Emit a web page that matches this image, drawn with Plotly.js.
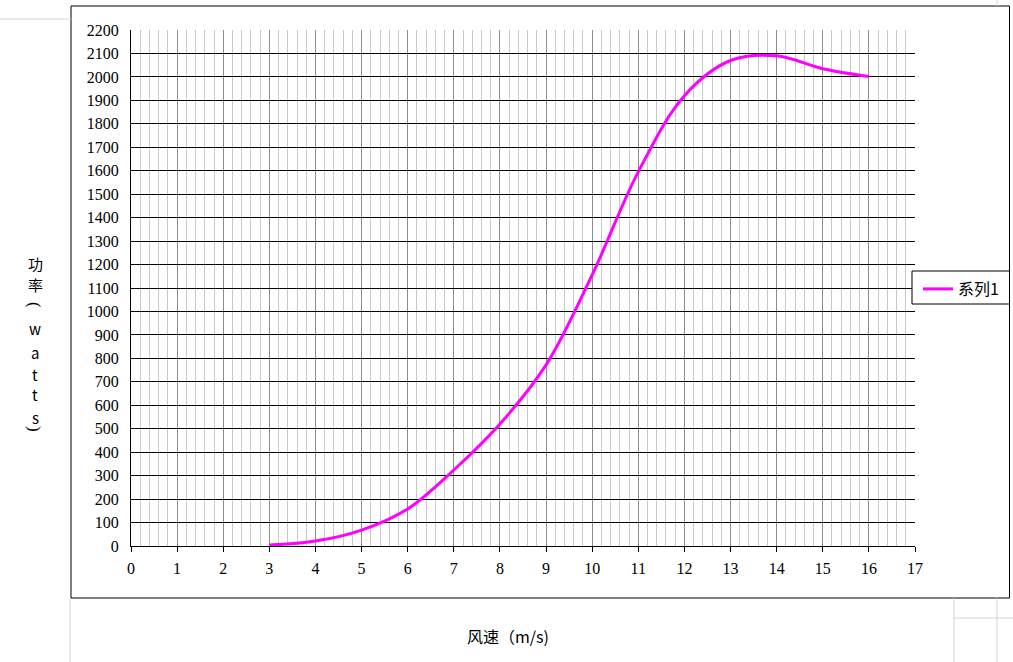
<!DOCTYPE html>
<html>
<head>
<meta charset="utf-8">
<script src="https://cdn.plot.ly/plotly-3.0.1.min.js"></script>
<style>
html,body{margin:0;padding:0;background:#fff;}
#chart{width:1013px;height:662px;}
</style>
</head>
<body>
<div id="chart"></div>
<script>
// ---- data ----
const windSpeed = [3, 4, 5, 6, 7, 8, 9, 10, 11, 12, 13, 14, 15, 16];
const power = [4, 21, 68, 158, 324, 520, 772, 1156, 1595, 1920, 2070, 2090, 2035, 2002];
const seriesName = '系列1';
const xTitle = '风速（m/s)';
const yTitleChars = ['功', '率', '(', 'w', 'a', 't', 't', 's', ')'];

// ---- geometry helpers (pixel -> paper) ----
const W = 1013, H = 662;
const L = 131, R = 915, T = 30, B = 546;
const px = x => (x - L) / (R - L);
const py = y => (B - y) / (B - T);

const numFont = {family: 'Liberation Serif, DejaVu Serif, serif', size: 16, color: '#000'};
const cjkFont = {family: 'Noto Sans CJK SC, sans-serif', size: 16, color: '#000'};

const trace = {
  x: windSpeed,
  y: power,
  type: 'scatter',
  mode: 'lines',
  name: seriesName,
  line: {color: '#FF00FF', width: 3, shape: 'spline', smoothing: 1},
  hoverinfo: 'skip'
};

const gray = '#d4d4d4';
const shapes = [
  // outer chart border
  {type: 'rect', xref: 'paper', yref: 'paper', x0: px(71), x1: px(1009.5), y0: py(598), y1: py(6),
   line: {color: '#000', width: 1}, fillcolor: 'rgba(0,0,0,0)', layer: 'below'},
  // legend box
  {type: 'rect', xref: 'paper', yref: 'paper', x0: px(912), x1: px(1009.5), y0: py(304), y1: py(271),
   line: {color: '#000', width: 1}, fillcolor: '#fff', layer: 'above'},
  // spreadsheet cell lines outside chart
  {type: 'line', xref: 'paper', yref: 'paper', x0: px(0), x1: px(71), y0: py(19), y1: py(19), line: {color: gray, width: 1}},
  {type: 'line', xref: 'paper', yref: 'paper', x0: px(70), x1: px(70), y0: py(598), y1: py(662), line: {color: gray, width: 1}},
  {type: 'line', xref: 'paper', yref: 'paper', x0: px(954), x1: px(954), y0: py(598), y1: py(662), line: {color: gray, width: 1}},
  {type: 'line', xref: 'paper', yref: 'paper', x0: px(997), x1: px(997), y0: py(598), y1: py(662), line: {color: gray, width: 1}},
  {type: 'line', xref: 'paper', yref: 'paper', x0: px(954), x1: px(1013), y0: py(618), y1: py(618), line: {color: gray, width: 1}},
  {type: 'line', xref: 'paper', yref: 'paper', x0: px(997), x1: px(997), y0: py(0), y1: py(6), line: {color: gray, width: 1}}
];

// vertical y-axis title, one character per line (brackets turned sideways)
const yTitleY = [263, 284, 305, 329, 352, 374, 395, 417, 429];
const yTitleAnn = yTitleChars.map((c, i) => {
  const isBracket = (c === '(' || c === ')');
  return {
    text: c, xref: 'paper', yref: 'paper', x: px(35), y: py(yTitleY[i]),
    xanchor: 'center', yanchor: 'middle', showarrow: false,
    font: isBracket ? {family: 'Liberation Serif, serif', size: 17, color: '#000'} :
          {family: 'Noto Sans CJK SC, sans-serif', size: 15, color: '#000'},
    textangle: isBracket ? 90 : 0
  };
});

const layout = {
  width: W, height: H,
  margin: {l: L, r: W - R, t: T, b: H - B, pad: 0, autoexpand: false},
  paper_bgcolor: '#fff',
  plot_bgcolor: '#fff',
  showlegend: true,
  legend: {
    x: px(912), y: py(272), xanchor: 'left', yanchor: 'top',
    bgcolor: 'rgba(0,0,0,0)', borderwidth: 0,
    font: cjkFont, itemwidth: 30, indentation: 6
  },
  xaxis: {
    range: [0, 17], dtick: 1, tick0: 0,
    showgrid: true, gridcolor: '#8c8c8c', gridwidth: 1,
    minor: {dtick: 0.2, showgrid: true, gridcolor: '#c8c8c8', gridwidth: 1},
    showline: true, linecolor: '#000', linewidth: 1,
    ticks: 'outside', ticklen: 5, tickcolor: '#000', tickwidth: 1,
    ticklabelstandoff: 3,
    tickfont: numFont, zeroline: false, fixedrange: true
  },
  yaxis: {
    range: [0, 2200], dtick: 100, tick0: 0,
    showgrid: true, gridcolor: '#000', gridwidth: 1,
    showline: true, linecolor: '#000', linewidth: 1,
    ticks: 'outside', ticklen: 8, tickcolor: 'rgba(0,0,0,0)',
    tickfont: numFont, zeroline: false, fixedrange: true
  },
  shapes: shapes,
  annotations: [
    {text: xTitle, xref: 'paper', yref: 'paper', x: px(508), y: py(636),
     xanchor: 'center', yanchor: 'middle', showarrow: false, font: cjkFont}
  ].concat(yTitleAnn)
};

Plotly.newPlot('chart', [trace], layout, {displayModeBar: false, staticPlot: true});
</script>
</body>
</html>
